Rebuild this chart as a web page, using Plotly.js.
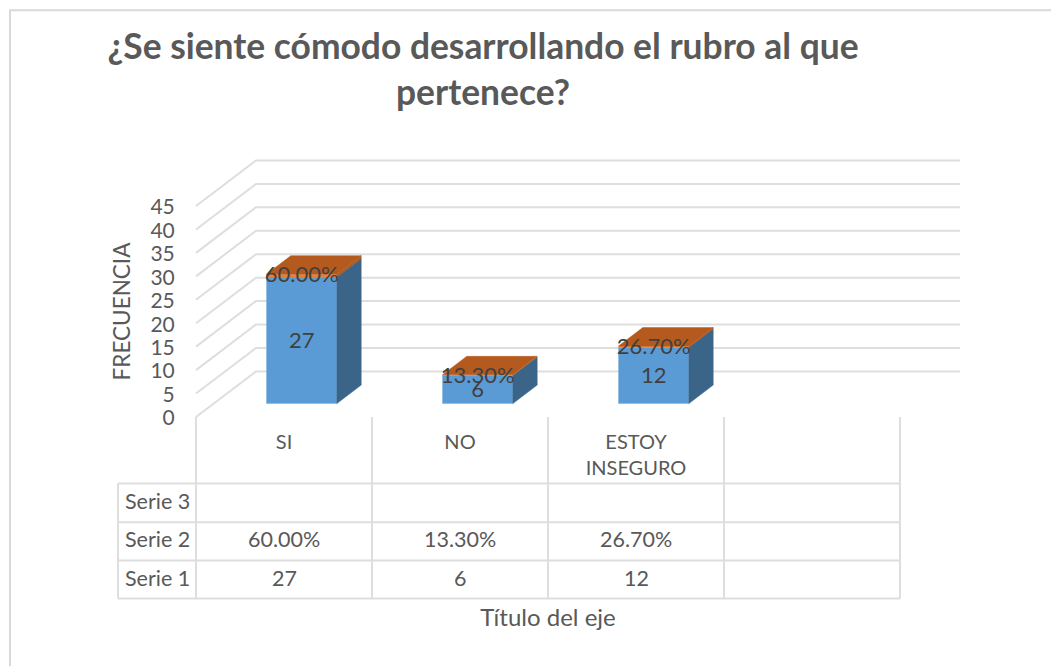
<!DOCTYPE html>
<html><head><meta charset="utf-8">
<script src="https://cdn.plot.ly/plotly-3.0.1.min.js"></script>
<style>html,body{margin:0;padding:0;background:#fff}#c{width:1051px;height:666px}</style>
</head><body><div id="c"></div>
<script>
const categories = ["SI","NO","ESTOY<br>INSEGURO",""];
const serie1 = [27,6,12];
const serie2 = [0.6,0.133,0.267];
const serie2Labels = ["60.00%","13.30%","26.70%"];
const serie1Labels = ["27","6","12"];
const yTicks = [0,5,10,15,20,25,30,35,40,45];
const rowNames = ["Serie 3","Serie 2","Serie 1"];

// plot area is the front plane of the 3D box; depth is an oblique projection
const W=1051,H=666,L=196,R=900,T=206,B=416.7;
const pxX=(R-L)/4, pxY=(B-T)/45;
const depthX=60/pxX, depthY=45.5/pxY;
const proj=(x,y,d)=>[x+d*depthX,y+d*depthY];
const d0=0.295,d1=0.70,bw=0.4;
const centers=serie1.map((_,i)=>i+0.5);
const LINE='#dedede';
const FONT='Lato, sans-serif';
// data units -> paper, so that rules can leave the plot area
const pX=x=>x/4, pY=y=>y/45;
const pyFromPx=p=>(B-p)/(B-T), xFromPx=p=>(p-L)/pxX;
const shapes=[];
function rule(points,w){
  shapes.push({type:'path',xref:'paper',yref:'paper',layer:'below',
    path:points.map((p,i)=>(i?'L':'M')+pX(p[0])+' '+pY(p[1])).join(' '),
    line:{color:LINE,width:w||2}});
}
// side and back-wall gridlines
const wallEnd=xFromPx(960);
yTicks.forEach(v=>{const a=proj(0,v,0),b=proj(0,v,1);rule([a,b,[wallEnd,b[1]]]);});
// data table rules
const rowPx=[483,521.7,560,598];
const tableY=rowPx.map(p=>(B-p)/pxY);
const leftX=xFromPx(118);
tableY.forEach(y=>rule([[leftX,y],[4,y]]));
[0,1,2,3,4].forEach(x=>rule([[x,0],[x,tableY[3]]]));
rule([[leftX,tableY[0]],[leftX,tableY[3]]]);
// chart frame: top and left edge only
shapes.push({type:'path',xref:'paper',yref:'paper',layer:'below',
  path:`M${(10-L)/(R-L)} ${pyFromPx(700)} L${(10-L)/(R-L)} ${pyFromPx(10.5)} L${(1060-L)/(R-L)} ${pyFromPx(10.5)}`,
  line:{color:'#d9d9d9',width:2}});

const traces=[];
function face(pts,color){traces.push({type:'scatter',mode:'lines',x:pts.map(p=>p[0]).concat(pts[0][0]),y:pts.map(p=>p[1]).concat(pts[0][1]),fill:'toself',fillcolor:color,line:{color:color,width:0.5},hoverinfo:'skip',showlegend:false});}
const cx=centers.map(c=>c+d0*depthX);
const base=d0*depthY;
centers.forEach((c,i)=>{
  const xl=c-bw/2, xr=c+bw/2, h1=serie1[i], h2=h1+serie2[i];
  face([proj(xr,0,d0),proj(xr,0,d1),proj(xr,h1,d1),proj(xr,h1,d0)],'#3a6488');
  face([proj(xr,h1,d0),proj(xr,h1,d1),proj(xr,h2,d1),proj(xr,h2,d0)],'#ad5a20');
  face([proj(xl,h2,d0),proj(xr,h2,d0),proj(xr,h2,d1),proj(xl,h2,d1)],'#b55a1e');
});
traces.push({type:'bar',name:'Serie 1',x:cx,y:serie1,base:base,width:bw,marker:{color:'#5b9bd5',line:{color:'#7fb0dd',width:0.5}},hoverinfo:'skip',showlegend:false});
traces.push({type:'bar',name:'Serie 2',x:cx,y:serie2,base:serie1.map(v=>v+base),width:bw,marker:{color:'#ed7d31'},hoverinfo:'skip',showlegend:false});
const labelFont={family:FONT,size:22,color:'#404040'};
traces.push({type:'scatter',mode:'text',x:cx,y:serie1.map(v=>base+v/2-0.5),text:serie1Labels,textfont:labelFont,textposition:'middle center',hoverinfo:'skip',showlegend:false,cliponaxis:false});
traces.push({type:'scatter',mode:'text',x:cx,y:serie1.map((v,i)=>base+v+serie2[i]-0.6),text:serie2Labels,textfont:labelFont,textposition:'middle center',hoverinfo:'skip',showlegend:false,cliponaxis:false});

// data table text
const cell=(x,y,text)=>({xref:'paper',yref:'paper',x:pX(x),y:pY((tableY[y]+tableY[y+1])/2)+2/(B-T),text:text,showarrow:false,xanchor:'center',yanchor:'middle',font:{family:FONT,size:21.5,color:'#595959'}});
const annotations=[];
rowNames.forEach((n,i)=>annotations.push(cell(leftX/2,i,n)));
centers.forEach((c,i)=>{annotations.push(cell(c,1,serie2Labels[i]));annotations.push(cell(c,2,serie1Labels[i]));});

const layout={
  width:W,height:H,autosize:false,showlegend:false,
  paper_bgcolor:'#fff',plot_bgcolor:'rgba(0,0,0,0)',
  barmode:'overlay',
  margin:{l:L,r:W-R,t:T,b:H-B,pad:0},
  title:{text:'¿Se siente cómodo desarrollando el rubro al que<br>pertenece?',x:483/W,xanchor:'center',y:1-59/H,yanchor:'top',xref:'container',yref:'container',font:{family:FONT,size:35.4,color:'#595959',weight:700}},
  xaxis:{range:[0,4],tickmode:'array',tickvals:[0.5,1.5,2.5,3.5],ticktext:categories,showgrid:false,zeroline:false,showline:false,ticks:'outside',ticklen:7,tickcolor:'rgba(0,0,0,0)',tickfont:{family:FONT,size:20,color:'#595959'},title:{text:'Título del eje',standoff:131,font:{family:FONT,size:24,color:'#595959'}}},
  yaxis:{range:[0,45],tickmode:'array',tickvals:yTicks,showgrid:false,zeroline:false,showline:false,ticks:'outside',ticklen:16,ticklabelshift:1,tickcolor:'rgba(0,0,0,0)',tickfont:{family:FONT,size:21,color:'#595959'},title:{text:'FRECUENCIA',standoff:13,font:{family:FONT,size:22.5,color:'#595959'}}},
  shapes:shapes,annotations:annotations
};
Plotly.newPlot('c',traces,layout,{displayModeBar:false,staticPlot:true});
</script></body></html>
